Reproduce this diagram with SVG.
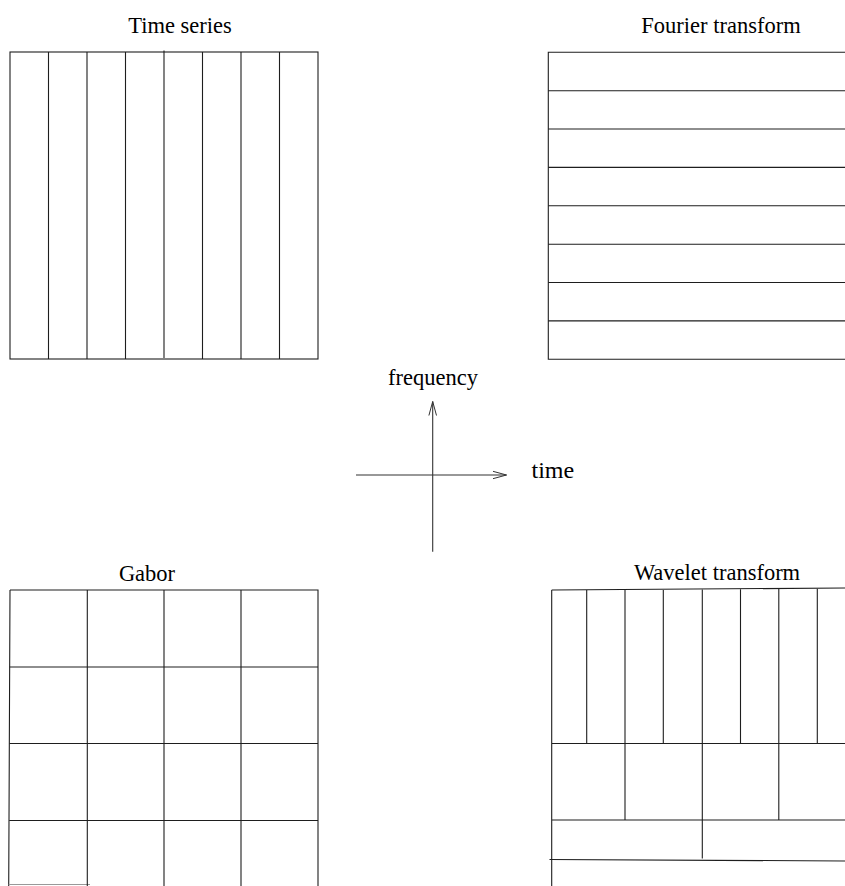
<svg xmlns="http://www.w3.org/2000/svg" width="845" height="886" viewBox="0 0 845 886">
<style>
.ln{stroke:#1e1e1e;stroke-width:1.1;fill:none;stroke-linecap:butt}
.t{font-family:"Liberation Serif","Times New Roman",serif;font-size:22.5px;fill:#000}
</style>
<defs>
<marker id="ah" markerWidth="16" markerHeight="10" refX="14" refY="5" orient="auto" markerUnits="userSpaceOnUse">
<path d="M0,1.2 L14,5 L0,8.8" fill="none" stroke="#333" stroke-width="1"/>
</marker>
</defs>
<rect width="845" height="886" fill="#fff"/>
<g id="time-series">
<text class="t" x="180" y="33" text-anchor="middle">Time series</text>
<rect class="ln" x="10" y="52" width="308" height="307"/>
<path class="ln" d="M48.5,52V359M87,52V359M125.5,52V359M164,50.5V358M202.5,52V359M241,52V359M279.5,52V359"/>
</g>
<g id="fourier-transform">
<text class="t" x="721" y="33" text-anchor="middle">Fourier transform</text>
<path class="ln" d="M848,52.3H548.3V359.3H848"/>
<path class="ln" d="M548.3,90.7H848M548.3,129H848M548.3,167.4H848M548.3,205.8H848M548.3,244.2H848M548.3,282.5H848M548.3,320.9H848"/>
</g>
<g id="gabor">
<text class="t" x="147" y="581" text-anchor="middle">Gabor</text>
<path class="ln" d="M10,590H318V890M10,590L8.7,890"/>
<path d="M8.7,884.5H90" stroke="#999" stroke-width="1" fill="none"/>
<path class="ln" d="M87.3,590V890M164,590V890M241,590V890"/>
<path class="ln" d="M9.7,667H318M9.5,743.5H318M9.2,820.5H318"/>
</g>
<g id="wavelet-transform">
<text class="t" x="717" y="580" text-anchor="middle">Wavelet transform</text>
<path class="ln" d="M551.7,590L848,588M551.7,590V890"/>
<path class="ln" d="M586.7,590V743.5M625,590V820M663.3,590V743.5M702.3,589.5V858.5M740.5,589.3V743.5M778.8,589V820M817.3,588.8V743.5"/>
<path class="ln" d="M552,743.5H848M552,820H848M549.5,859.5L848,861"/>
</g>
<g id="connectors">
<line x1="356" y1="475" x2="506.5" y2="475" stroke="#333" stroke-width="1.1" marker-end="url(#ah)"/>
<line x1="432.7" y1="551.7" x2="432.7" y2="401.5" stroke="#333" stroke-width="1.1" marker-end="url(#ah)"/>
</g>
<g id="axis-labels">
<text class="t" x="433" y="385" text-anchor="middle">frequency</text>
<text class="t" x="531.5" y="478" style="font-size:24px">time</text>
</g>
</svg>
